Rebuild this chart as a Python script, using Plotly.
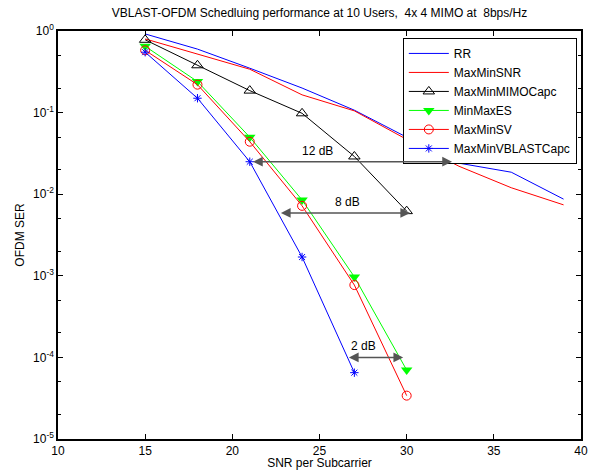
import plotly.graph_objects as go
import numpy as np

snr = [15, 18, 21, 24, 27, 30, 33, 36, 39]
rr = [0.92, 0.60, 0.35, 0.20, 0.107, 0.050, 0.024, 0.0186, 0.0087]
maxminsnr = [0.80, 0.52, 0.34, 0.165, 0.105, 0.047, 0.022, 0.012, 0.0074]
snr6 = [15, 18, 21, 24, 27, 30]
mimocapc = [0.78, 0.38, 0.186, 0.098, 0.029, 0.0062]
minmaxes = [0.65, 0.24, 0.050, 0.0085, 0.00097, 0.00007]
maxminsv = [0.58, 0.22, 0.044, 0.0072, 0.00077, 0.000034]
snr5 = [15, 18, 21, 24, 27]
vblastcapc = [0.55, 0.15, 0.025, 0.0017, 0.000065]

# annotation arrows: (x_start, x_end, y, label, label_x)
arrows = [
    (21.1, 32.6, 0.025, "12 dB", 24.9),
    (22.7, 30.2, 0.0059, "8 dB", 26.6),
    (26.6, 29.8, 0.0001, "2 dB", 27.55),
]

FONT = "Liberation Sans, Arial, sans-serif"

fig = go.Figure()
fig.add_trace(go.Scatter(x=snr, y=rr, mode="lines", name="RR",
                         line=dict(color="#0000FF", width=1)))
fig.add_trace(go.Scatter(x=snr, y=maxminsnr, mode="lines", name="MaxMinSNR",
                         line=dict(color="#FF0000", width=1)))
fig.add_trace(go.Scatter(x=snr6, y=mimocapc, mode="lines+markers", name="MaxMinMIMOCapc",
                         line=dict(color="#000000", width=1),
                         marker=dict(symbol="triangle-up-open", size=10, color="#000000",
                                     line=dict(width=1))))
fig.add_trace(go.Scatter(x=snr6, y=minmaxes, mode="lines+markers", name="MinMaxES",
                         line=dict(color="#00FF00", width=1),
                         marker=dict(symbol="triangle-down", size=10, color="#00FF00")))
fig.add_trace(go.Scatter(x=snr6, y=maxminsv, mode="lines+markers", name="MaxMinSV",
                         line=dict(color="#FF0000", width=1),
                         marker=dict(symbol="circle-open", size=9, color="#FF0000",
                                     line=dict(width=1))))
fig.add_trace(go.Scatter(x=snr5, y=vblastcapc, mode="lines+markers", name="MaxMinVBLASTCapc",
                         line=dict(color="#0000FF", width=1),
                         marker=dict(symbol="asterisk-open", size=7, color="#0000FF",
                                     line=dict(width=1, color="#0000FF"))))

for xs, xe, yv, label, lx in arrows:
    ly = np.log10(yv)
    fig.add_annotation(x=xe, y=ly, ax=xs, ay=ly, xref="x", yref="y", axref="x", ayref="y",
                       text="", showarrow=True, arrowhead=2, arrowside="end+start",
                       arrowsize=1.3, arrowwidth=1.5, arrowcolor="#555555")
    fig.add_annotation(x=lx, y=ly, xref="x", yref="y", text=label,
                       showarrow=False, yshift=11, font=dict(family=FONT, size=12, color="black"))

ytv = [1, 0.1, 0.01, 0.001, 0.0001, 0.00001]
ytt = ["10<sup>0</sup>", "10<sup>-1</sup>", "10<sup>-2</sup>", "10<sup>-3</sup>",
       "10<sup>-4</sup>", "10<sup>-5</sup>"]

fig.update_layout(
    width=589, height=470,
    margin=dict(l=58, r=8, t=31, b=31),
    paper_bgcolor="white", plot_bgcolor="white",
    title=dict(text="VBLAST-OFDM Schedluing performance at 10 Users,  4x 4 MIMO at  8bps/Hz",
               x=0.5425, xanchor="center", y=0.972, yanchor="middle",
               font=dict(family=FONT, size=12, color="black")),
    font=dict(family=FONT, size=12, color="black"),
    showlegend=True,
    legend=dict(x=0.992, y=0.983, xanchor="right", yanchor="top",
                bordercolor="black", borderwidth=1, bgcolor="white",
                font=dict(family=FONT, size=12, color="black"),
                tracegroupgap=0, itemwidth=40),
)
fig.update_xaxes(range=[10, 40], tickvals=[10, 15, 20, 25, 30, 35, 40],
                 ticks="inside", ticklen=5, tickcolor="black", mirror="allticks", showline=True,
                 linecolor="black", linewidth=1.5, showgrid=False, zeroline=False,
                 automargin=False, tickfont=dict(family=FONT, size=12),
                 title=dict(text="SNR per Subcarrier", standoff=4,
                            font=dict(family=FONT, size=12)))
fig.update_yaxes(type="log", range=[-5, 0], tickvals=ytv, ticktext=ytt,
                 ticks="inside", ticklen=5, tickcolor="black", mirror="allticks", showline=True,
                 linecolor="black", linewidth=1.5, showgrid=False, zeroline=False,
                 automargin=False, tickfont=dict(family=FONT, size=12),
                 minor=dict(ticks="inside", ticklen=3, tickcolor="black", showgrid=False),
                 title=dict(text="OFDM SER", standoff=6,
                            font=dict(family=FONT, size=12)))

fig.write_html("out.html", config={"displayModeBar": False},
               post_script="document.body.style.margin='0';")
